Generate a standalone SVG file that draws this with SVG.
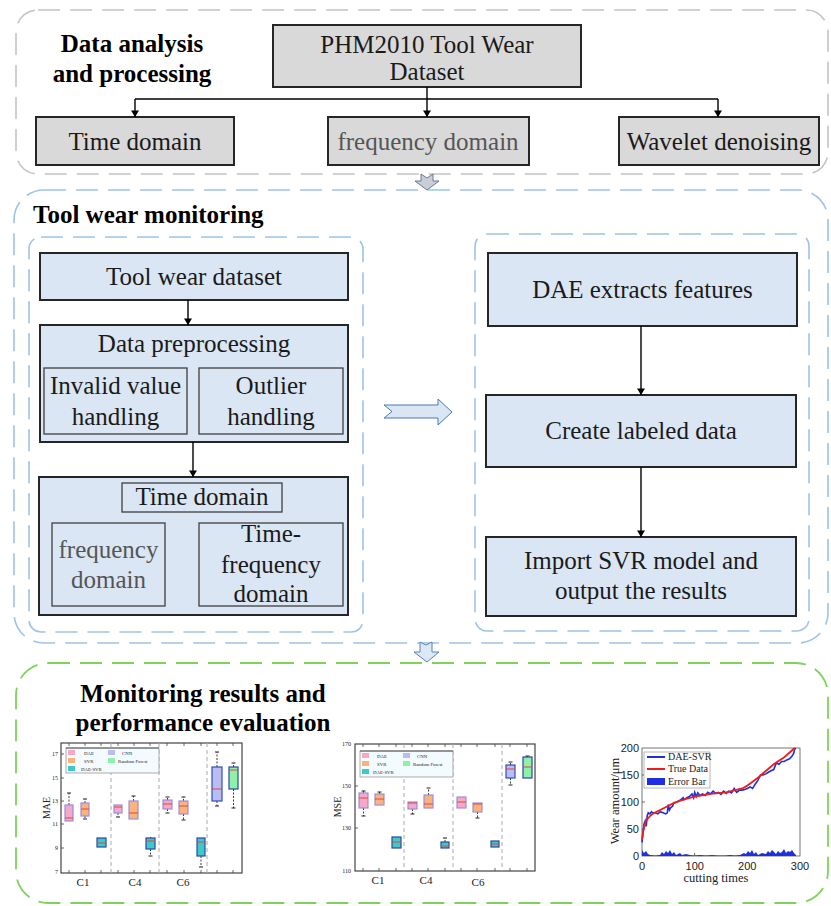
<svg xmlns="http://www.w3.org/2000/svg" width="831" height="906" viewBox="0 0 831 906">
<defs>
<marker id="ah" viewBox="0 0 8 10" refX="8" refY="5" markerWidth="7" markerHeight="8" markerUnits="userSpaceOnUse" orient="auto">
<path d="M0,0 L8,5 L0,10 Z" fill="#000"/>
</marker>
</defs>
<style>
.t{font-family:"Liberation Serif","Times New Roman",serif;font-size:25px;fill:#1a1a1a;text-anchor:middle}
.tb{font-weight:bold;fill:#000}
.gr{fill:#555}
.gray{fill:#d9d9d9;stroke:#262626;stroke-width:2}
.blue{fill:#dae6f4;stroke:#262626;stroke-width:2}
.sub{fill:#dae6f4;stroke:#404040;stroke-width:1.3}
.conn{stroke:#000;stroke-width:1.4;fill:none;marker-end:url(#ah)}
.sec-g{fill:none;stroke:#c4c4c4;stroke-width:1.6;stroke-dasharray:22 10}
.sec-b{fill:none;stroke:#9dc3e6;stroke-width:1.6;stroke-dasharray:22 10}
.sec-gr{fill:none;stroke:#7fd35a;stroke-width:1.8;stroke-dasharray:22 10}
.ct{font-family:"Liberation Serif","Times New Roman",serif;fill:#222}
.cs{font-family:"Liberation Sans",Arial,sans-serif;fill:#222}
.frame{fill:#fff;stroke:#444;stroke-width:1.2}
.vd{stroke:#aaa;stroke-width:1;stroke-dasharray:4 3}
.wh{stroke:#222;stroke-width:0.9;stroke-dasharray:2 1.5;fill:none}
.cap{stroke:#222;stroke-width:1}
.med{stroke:#e2463c;stroke-width:1}
.pk{fill:#f6a9c5;stroke:#9a8ee0;stroke-width:1.2}
.or{fill:#f8b47c;stroke:#9a8ee0;stroke-width:1.2}
.cy{fill:#3ec9c9;stroke:#2a46a8;stroke-width:1.2}
.cn{fill:#bcbcf5;stroke:#3050b0;stroke-width:1.2}
.rf{fill:#8ff0aa;stroke:#2a46a8;stroke-width:1.2}
.tk{stroke:#444;stroke-width:0.8}
</style>

<!-- Section 1 -->
<g id="section-data">
<rect class="sec-g" x="16" y="10" width="812" height="164" rx="22"/>
<text class="t tb" x="132" y="52" font-size="26">Data analysis</text>
<text class="t tb" x="132" y="82" font-size="26">and processing</text>
</g>
<g id="node-phm">
<rect class="gray" x="273" y="25" width="308" height="62"/>
<text class="t" x="427" y="53">PHM2010 Tool Wear</text>
<text class="t" x="427" y="80">Dataset</text>
</g>
<g id="node-time">
<rect class="gray" x="36" y="117" width="198" height="48"/>
<text class="t" x="135" y="150">Time domain</text>
</g>
<g id="node-freq">
<rect class="gray" x="328" y="117" width="201" height="48"/>
<text class="t gr" x="428" y="150">frequency domain</text>
</g>
<g id="node-wavelet">
<rect class="gray" x="619" y="117" width="200" height="48"/>
<text class="t" x="719" y="150">Wavelet denoising</text>
</g>

<!-- Section 2 -->
<g id="section-monitor">
<rect class="sec-b" x="14" y="190" width="814" height="453" rx="30"/>
<text class="t tb" x="33" y="223" style="text-anchor:start">Tool wear monitoring</text>
<rect class="sec-b" x="29" y="237" width="334" height="395" rx="12"/>
<rect class="sec-b" x="475" y="234" width="334" height="397" rx="12"/>
</g>
<g id="node-dataset">
<rect class="blue" x="40" y="253" width="308" height="47"/>
<text class="t" x="194" y="285">Tool wear dataset</text>
</g>
<g id="node-preproc">
<rect class="blue" x="40" y="325" width="308" height="117"/>
<text class="t" x="194" y="352">Data preprocessing</text>
<rect class="sub" x="44" y="368" width="143" height="66"/>
<text class="t" x="115.5" y="394">Invalid value</text>
<text class="t" x="115.5" y="425">handling</text>
<rect class="sub" x="199" y="368" width="144" height="66"/>
<text class="t" x="271" y="394">Outlier</text>
<text class="t" x="271" y="425">handling</text>
</g>
<g id="node-features">
<rect class="blue" x="39" y="477" width="309" height="138"/>
<rect class="sub" x="122" y="483" width="160" height="29"/>
<text class="t" x="202" y="505">Time domain</text>
<rect class="sub" x="52" y="523" width="113" height="83"/>
<text class="t gr" x="108.5" y="558">frequency</text>
<text class="t gr" x="108.5" y="588">domain</text>
<rect class="sub" x="199" y="523" width="144" height="83"/>
<text class="t" x="271" y="542">Time-</text>
<text class="t" x="271" y="573">frequency</text>
<text class="t" x="271" y="602">domain</text>
</g>
<g id="node-dae">
<rect class="blue" x="488" y="253" width="309" height="73"/>
<text class="t" x="642.5" y="298">DAE extracts features</text>
</g>
<g id="node-label">
<rect class="blue" x="486" y="395" width="310" height="72"/>
<text class="t" x="641" y="439">Create labeled data</text>
</g>
<g id="node-svr">
<rect class="blue" x="486" y="537" width="310" height="79"/>
<text class="t" x="641" y="569">Import SVR model and</text>
<text class="t" x="641" y="599">output the results</text>
</g>

<!-- Section 3 -->
<g id="section-results">
<rect class="sec-gr" x="16" y="663" width="812" height="240" rx="32"/>
<text class="t tb" x="203" y="702" font-size="26">Monitoring results and</text>
<text class="t tb" x="203" y="731" font-size="26">performance evaluation</text>
</g>

<!-- Connectors -->
<g id="connectors">
<path class="conn" d="M427,87 V99"  style="marker-end:none"/>
<path class="conn" d="M135,99 H718" style="marker-end:none"/>
<path class="conn" d="M135,99 V117"/>
<path class="conn" d="M427,99 V117"/>
<path class="conn" d="M718,99 V117"/>
<path class="conn" d="M188,300 V325"/>
<path class="conn" d="M193,442 V477"/>
<path class="conn" d="M641,326 V395"/>
<path class="conn" d="M641,467 V537"/>
<polygon points="421,174 427,178 433,174 433,181 439,181 427,190 415,181 421,181" fill="#c9cdd5" stroke="#6b7a90" stroke-width="1"/>
<polygon points="384,405 438,405 438,399 452,412 438,425 438,418 384,418 392,411.5" fill="#dae6f4" stroke="#4a7ab8" stroke-width="1"/>
<polygon points="420,642 426,645 432,642 432,652 439,652 427,662 414,652 420,652" fill="#dce8f8" stroke="#5a82b8" stroke-width="1"/>
</g>

<!-- Chart MAE -->
<g id="chart-mae">
<rect class="frame" x="61" y="743" width="181" height="130"/>
<line class="vd" x1="111" y1="743" x2="111" y2="873"/>
<line class="vd" x1="159" y1="743" x2="159" y2="873"/>
<line class="vd" x1="207" y1="743" x2="207" y2="873"/>
<g class="tk">
<line x1="61" y1="754" x2="64" y2="754"/><line x1="61" y1="778" x2="64" y2="778"/><line x1="61" y1="801" x2="64" y2="801"/><line x1="61" y1="824" x2="64" y2="824"/><line x1="61" y1="848" x2="64" y2="848"/>
<line x1="69" y1="873" x2="69" y2="870"/><line x1="85" y1="873" x2="85" y2="870"/><line x1="101" y1="873" x2="101" y2="870"/><line x1="118" y1="873" x2="118" y2="870"/><line x1="134" y1="873" x2="134" y2="870"/><line x1="150" y1="873" x2="150" y2="870"/><line x1="167" y1="873" x2="167" y2="870"/><line x1="184" y1="873" x2="184" y2="870"/><line x1="201" y1="873" x2="201" y2="870"/><line x1="217" y1="873" x2="217" y2="870"/><line x1="233" y1="873" x2="233" y2="870"/>
<line x1="69" y1="743" x2="69" y2="746"/><line x1="85" y1="743" x2="85" y2="746"/><line x1="101" y1="743" x2="101" y2="746"/><line x1="118" y1="743" x2="118" y2="746"/><line x1="134" y1="743" x2="134" y2="746"/><line x1="150" y1="743" x2="150" y2="746"/><line x1="167" y1="743" x2="167" y2="746"/><line x1="184" y1="743" x2="184" y2="746"/><line x1="201" y1="743" x2="201" y2="746"/><line x1="217" y1="743" x2="217" y2="746"/><line x1="233" y1="743" x2="233" y2="746"/>
</g>
<g class="ct" font-size="6" text-anchor="end">
<text x="58" y="756">17</text><text x="58" y="780">15</text><text x="58" y="803">13</text><text x="58" y="826">11</text><text x="58" y="850">9</text><text x="58" y="874">7</text>
</g>
<text class="ct" font-size="10" text-anchor="middle" transform="translate(50,808) rotate(-90)">MAE</text>
<g class="ct" font-size="11" text-anchor="middle">
<text x="83" y="886">C1</text><text x="135" y="886">C4</text><text x="183" y="886">C6</text>
</g>
<!-- legend -->
<rect x="66" y="748" width="93" height="25" fill="#f4fbff" stroke="#999" stroke-width="0.8"/>
<line x1="66" y1="748" x2="159" y2="748" stroke="#555" stroke-width="1"/>
<rect x="68" y="750" width="7" height="5" fill="#f6a9c5"/>
<rect x="68" y="758" width="7" height="5" fill="#f8b47c"/>
<rect x="68" y="766" width="7" height="5" fill="#3ec9c9"/>
<rect x="108" y="750" width="7" height="5" fill="#bcbcf5"/>
<rect x="108" y="758" width="7" height="5" fill="#8ff0aa"/>
<g class="ct" font-size="4.8">
<text x="84" y="755">DAE</text><text x="84" y="763">SVR</text><text x="81" y="771">DAE-SVR</text>
<text x="122" y="755">CNN</text><text x="118" y="763">Random Forest</text>
</g>
<!-- boxes -->
<path class="wh" d="M69,805 V793 M85,803 V799 M85,816 V819 M118,813 V817 M133.5,801 V796 M150.5,838 V837 M150.5,849 V856 M167.5,800 V797 M167.5,809 V813 M183.5,801 V797 M183.5,814 V820 M201,856 V867 M217,767 V752 M217,801 V806 M233.5,767 V763 M233.5,789 V808"/>
<path class="cap" d="M67,793 H71 M83,799 H87 M83,819 H87 M116,817 H120 M131.5,796 H135.5 M148.5,856 H152.5 M165.5,797 H169.5 M165.5,813 H169.5 M181.5,797 H185.5 M181.5,820 H185.5 M199,867 H203 M215,752 H219 M215,806 H219 M231.5,763 H235.5 M231.5,808 H235.5"/>
<rect class="pk" x="65" y="805" width="8" height="16"/>
<rect class="or" x="81" y="803" width="8" height="13"/>
<rect class="cy" x="97" y="838" width="9" height="9"/>
<rect class="pk" x="114" y="805" width="8" height="8"/>
<rect class="or" x="129" y="801" width="9" height="18"/>
<rect class="cy" x="146" y="838" width="9" height="11"/>
<rect class="pk" x="163" y="800" width="9" height="9"/>
<rect class="or" x="179" y="801" width="9" height="13"/>
<rect class="cy" x="197" y="838" width="8" height="18"/>
<rect class="cn" x="212" y="767" width="10" height="34"/>
<rect class="rf" x="229" y="767" width="9" height="22"/>
<path class="med" d="M65,818 H73 M81,809 H89 M97,843 H106 M114,807 H122 M129,813 H138 M146,841 H155 M163,804 H172 M179,806 H188 M197,842 H205 M212,789 H222 M229,770 H238"/>
</g>

<!-- Chart MSE -->
<g id="chart-mse">
<rect class="frame" x="355" y="744" width="180" height="127"/>
<line class="vd" x1="404" y1="744" x2="404" y2="871"/>
<line class="vd" x1="453" y1="744" x2="453" y2="871"/>
<line class="vd" x1="502" y1="744" x2="502" y2="871"/>
<g class="tk">
<line x1="355" y1="786" x2="358" y2="786"/><line x1="355" y1="828" x2="358" y2="828"/>
<line x1="363" y1="871" x2="363" y2="868"/><line x1="379" y1="871" x2="379" y2="868"/><line x1="396" y1="871" x2="396" y2="868"/><line x1="412" y1="871" x2="412" y2="868"/><line x1="428" y1="871" x2="428" y2="868"/><line x1="445" y1="871" x2="445" y2="868"/><line x1="461" y1="871" x2="461" y2="868"/><line x1="477" y1="871" x2="477" y2="868"/><line x1="495" y1="871" x2="495" y2="868"/><line x1="510" y1="871" x2="510" y2="868"/><line x1="527" y1="871" x2="527" y2="868"/>
<line x1="363" y1="744" x2="363" y2="747"/><line x1="379" y1="744" x2="379" y2="747"/><line x1="396" y1="744" x2="396" y2="747"/><line x1="412" y1="744" x2="412" y2="747"/><line x1="428" y1="744" x2="428" y2="747"/><line x1="445" y1="744" x2="445" y2="747"/><line x1="461" y1="744" x2="461" y2="747"/><line x1="477" y1="744" x2="477" y2="747"/><line x1="495" y1="744" x2="495" y2="747"/><line x1="510" y1="744" x2="510" y2="747"/><line x1="527" y1="744" x2="527" y2="747"/>
</g>
<g class="ct" font-size="6" text-anchor="end">
<text x="351" y="746">170</text><text x="351" y="788">150</text><text x="351" y="830">130</text><text x="351" y="873">110</text>
</g>
<text class="ct" font-size="10" text-anchor="middle" transform="translate(341,807) rotate(-90)">MSE</text>
<g class="ct" font-size="11" text-anchor="middle">
<text x="378" y="884">C1</text><text x="426" y="884">C4</text><text x="478" y="886">C6</text>
</g>
<rect x="360" y="751" width="93" height="26" fill="#f4fbff" stroke="#999" stroke-width="0.8"/>
<line x1="360" y1="751" x2="453" y2="751" stroke="#555" stroke-width="1"/>
<rect x="362" y="753" width="7" height="5" fill="#f6a9c5"/>
<rect x="362" y="761" width="7" height="5" fill="#f8b47c"/>
<rect x="362" y="769" width="7" height="5" fill="#3ec9c9"/>
<rect x="403" y="753" width="7" height="5" fill="#bcbcf5"/>
<rect x="403" y="761" width="7" height="5" fill="#8ff0aa"/>
<g class="ct" font-size="4.8">
<text x="377" y="758">DAE</text><text x="377" y="766">SVR</text><text x="373" y="774">DAE-SVR</text>
<text x="417" y="758">CNN</text><text x="413" y="766">Random Forest</text>
</g>
<path class="wh" d="M363.5,793 V791 M363.5,808 V816 M379.5,794 V792 M412.5,809 V814 M428.5,795 V788 M445,842 V838 M477.5,812 V818 M510.5,765 V762 M510.5,778 V785 M527.5,757 V756"/>
<path class="cap" d="M361.5,791 H365.5 M361.5,816 H365.5 M377.5,792 H381.5 M410.5,814 H414.5 M426.5,788 H430.5 M443,838 H447 M475.5,818 H479.5 M508.5,762 H512.5 M508.5,785 H512.5 M525.5,756 H529.5"/>
<rect class="pk" x="359" y="793" width="9" height="15"/>
<rect class="or" x="375" y="794" width="9" height="11"/>
<rect class="cy" x="392" y="837" width="9" height="11"/>
<rect class="pk" x="408" y="802" width="9" height="7"/>
<rect class="or" x="424" y="795" width="9" height="13"/>
<rect class="cy" x="441" y="842" width="8" height="6"/>
<rect class="pk" x="457" y="797" width="9" height="11"/>
<rect class="or" x="473" y="803" width="9" height="9"/>
<rect class="cy" x="491" y="841" width="8" height="6"/>
<rect class="cn" x="506" y="765" width="9" height="13"/>
<rect class="rf" x="523" y="757" width="9" height="21"/>
<path class="med" d="M359,798 H368 M375,799 H384 M392,842 H401 M408,803 H417 M424,804 H433 M441,846 H449 M457,802 H466 M473,804 H482 M491,844 H499 M506,769 H515 M523,767 H532"/>
</g>

<!-- Chart wear -->
<g id="chart-wear">
<rect x="642" y="748" width="158" height="108" fill="#fff" stroke="#555" stroke-width="0.8"/>
<g class="tk">
<line x1="642" y1="775" x2="645" y2="775"/><line x1="642" y1="802" x2="645" y2="802"/><line x1="642" y1="829" x2="645" y2="829"/>
<line x1="694.7" y1="856" x2="694.7" y2="853"/><line x1="747.3" y1="856" x2="747.3" y2="853"/>
</g>
<path d="M642,856 L642,850 L644,853 L646,851 L648,854 L650,855 L655,855.5 L660,855 L662,852 L664,854 L666,851 L668,853 L670,850 L672,854 L674,852 L676,855 L680,853 L682,855 L686,854 L690,855 L694,855.5 L700,855 L706,855.5 L712,855 L718,855.5 L725,855.5 L730,855 L735,855.5 L740,855 L744,853 L746,854 L748,851 L750,853 L752,850 L754,854 L756,852 L758,855 L762,853 L766,854 L768,851 L770,853 L772,850 L774,852 L776,854 L778,851 L780,853 L782,852 L784,849 L786,853 L788,851 L790,852 L792,850 L794,853 L796,855 L796,856 Z" fill="#1f2ee0"/>
<polyline fill="none" stroke="#1f2ee0" stroke-width="1.6" points="642,842.5 643.1,831.7 644.1,823.6 645.2,820.9 646.2,826.3 647.3,815.5 648.3,812.8 649.9,813.9 651.5,811.7 652.5,812.8 655.2,812.8 657.8,813.9 660.4,811.7 663.1,812.8 665.7,813.9 667.3,812.8 668.3,804.7 669.4,810.1 671,807.4 672.5,806.3 673.6,803.1 676.2,802 678.9,800.9 681.5,799.3 683.1,797.7 684.1,799.8 686.8,797.7 689.4,796.6 692,793.9 693.6,797.7 694.7,792.3 696.3,796.6 697.8,792.8 699.9,795.5 702.6,793.9 705.2,795.5 707.8,792.3 710.5,793.9 713.1,791.2 715.7,793.4 718.4,792.3 721,794.4 723.6,791.2 726.3,793.4 728.9,791.2 731.5,792.8 734.2,788.5 735.8,791.2 736.8,792.3 739.4,790.1 742.1,790.1 744.7,789.6 747.3,788.5 750,786.9 752.6,788.5 755.2,784.2 757.9,780.4 760.5,775 763.1,775 765.8,773.9 768.4,772.3 771,770.7 773.7,769.6 776.3,763.1 778.9,764.2 781.6,761.5 784.2,761.5 786.8,759.9 789.5,758.8 792.1,756.1 793.7,753.4 794.7,749.1 795.8,748"/>
<path fill="none" stroke="#ee1c1c" stroke-width="1.8" d="M642,839.8 C643,832 644,826 645.2,823.6 C646,821 646.5,820 647.3,819.3 C649,817 650,815.5 652.5,813.9 L663.1,808.5 L673.6,803.1 L684.1,799.3 L694.7,796.6 L710.5,793.9 L726.3,792.3 L742.1,788.5 C748,786 752,782 757.9,777.7 L773.7,764.2 L784.2,757.2 L794.7,748"/>
<g class="cs" font-size="11" text-anchor="end">
<text x="639" y="752">200</text><text x="639" y="779">150</text><text x="639" y="806">100</text><text x="639" y="833">50</text><text x="639" y="860">0</text>
</g>
<g class="cs" font-size="11" text-anchor="middle">
<text x="642" y="870">0</text><text x="694.7" y="870">100</text><text x="747.3" y="870">200</text><text x="800" y="870">300</text>
</g>
<text class="ct" font-size="12.5" text-anchor="middle" x="716" y="882">cutting times</text>
<text class="ct" font-size="12.5" text-anchor="middle" transform="translate(619,801) rotate(-90)">Wear amount/μm</text>
<rect x="644" y="752" width="66" height="36" fill="#fff" stroke="#888" stroke-width="0.6"/>
<line x1="647" y1="757" x2="665" y2="757" stroke="#1f2ee0" stroke-width="2"/>
<line x1="647" y1="769" x2="665" y2="769" stroke="#ee1c1c" stroke-width="2"/>
<rect x="647" y="778" width="18" height="7" fill="#1f2ee0"/>
<g class="ct" font-size="10">
<text x="668" y="760">DAE-SVR</text><text x="668" y="772">True Data</text><text x="668" y="785">Error Bar</text>
</g>
</g>
</svg>
